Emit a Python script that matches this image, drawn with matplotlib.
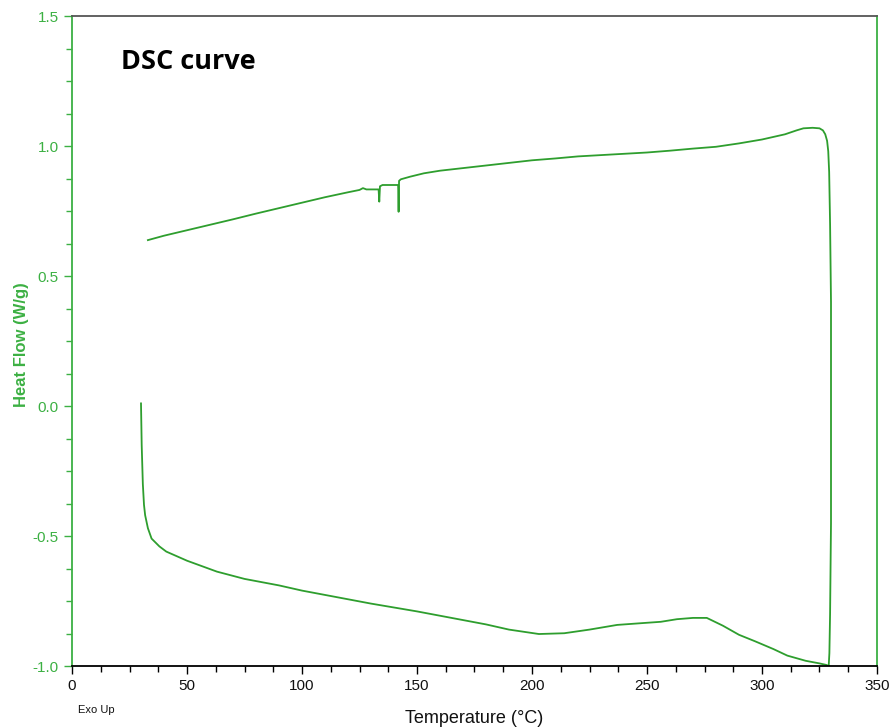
import matplotlib
matplotlib.use("Agg")
import matplotlib.pyplot as plt
from matplotlib.ticker import MultipleLocator

# ---- data ----
t_upper = [33, 40, 50, 60, 70, 80, 90, 100, 110, 120, 125, 126.5, 128, 133.3, 133.6, 133.9, 135,
           138, 141.8, 142.0, 142.2, 143, 147, 153, 160, 170, 180, 190, 200, 210, 220, 230,
           240, 250, 260, 270, 280, 290, 300, 305, 310, 315, 318, 322, 325, 326.5, 327.5,
           328.3, 328.8, 329.2, 329.6, 330, 330, 329.6, 329.3, 329]
hf_upper = [0.638, 0.655, 0.676, 0.697, 0.718, 0.74, 0.761, 0.782, 0.803, 0.822, 0.831, 0.838,
            0.833, 0.833, 0.786, 0.845, 0.85, 0.85, 0.85, 0.747, 0.866, 0.872, 0.882, 0.895,
            0.905, 0.915, 0.925, 0.935, 0.945, 0.952, 0.96, 0.965, 0.97, 0.975, 0.982, 0.99,
            0.997, 1.01, 1.025, 1.035, 1.045, 1.06, 1.068, 1.07, 1.068, 1.06, 1.045, 1.02,
            0.98, 0.9, 0.7, 0.4, -0.45, -0.8, -0.95, -1.0]

t_lower = [30, 30.3, 30.8, 31.3, 31.8, 33, 34.6, 38, 41, 50, 63, 75, 90, 100, 115, 130, 150,
           165, 180, 190, 203, 214, 225, 237, 248, 256, 263, 270, 276, 283, 290, 297, 305,
           311, 319, 325, 328, 329]
hf_lower = [0.01, -0.15, -0.3, -0.38, -0.42, -0.47, -0.51, -0.54, -0.56, -0.595, -0.637,
            -0.665, -0.69, -0.71, -0.735, -0.76, -0.79, -0.815, -0.84, -0.86, -0.877, -0.874,
            -0.86, -0.842, -0.835, -0.83, -0.82, -0.815, -0.815, -0.845, -0.88, -0.905, -0.935,
            -0.96, -0.98, -0.99, -0.996, -1.0]

x_ticks = [0, 50, 100, 150, 200, 250, 300, 350]
y_ticks = [-1.0, -0.5, 0.0, 0.5, 1.0, 1.5]

GREEN = "#2e9e2e"
LABEL_GREEN = "#3cb043"

fig = plt.figure(figsize=(8.94, 7.28), dpi=100)
ax = fig.add_axes([72/894, 1-666/728, 805/894, 650/728])

sans = ["Liberation Sans", "DejaVu Sans"]

ax.plot(t_upper, hf_upper, color=GREEN, lw=1.3)
ax.plot(t_lower, hf_lower, color=GREEN, lw=1.3)

ax.set_xlim(0, 350)
ax.set_ylim(-1.0, 1.5)
ax.set_xticks(x_ticks)
ax.set_yticks(y_ticks)
ax.xaxis.set_minor_locator(MultipleLocator(12.5))
ax.yaxis.set_minor_locator(MultipleLocator(0.125))
ax.set_xticklabels([f"{v:d}" for v in x_ticks], family=sans, fontsize=11, color="#111111")
ax.set_yticklabels([f"{v:.1f}" for v in y_ticks], family=sans, fontsize=11, color=LABEL_GREEN)

ax.tick_params(axis="x", which="major", direction="out", length=6, width=1, color="black")
ax.tick_params(axis="x", which="minor", direction="out", length=4, width=1, color="black")
ax.tick_params(axis="y", which="major", direction="out", length=6, width=1, color=LABEL_GREEN)
ax.tick_params(axis="y", which="minor", direction="out", length=4, width=1, color=LABEL_GREEN)

ax.spines["left"].set_color(LABEL_GREEN)
ax.spines["right"].set_color(LABEL_GREEN)
ax.spines["top"].set_color("#555555")
ax.spines["bottom"].set_color("black")
for s in ax.spines.values():
    s.set_linewidth(1.3)

ax.set_xlabel("Temperature (°C)", family=sans, fontsize=13, color="#111111", labelpad=12)
ax.set_ylabel("Heat Flow (W/g)", family=sans, fontsize=12, color=LABEL_GREEN,
              fontweight="bold")
ax.yaxis.set_label_coords((29 - 72) / 805, 0.494)

fig.text(96/894, 1-710/728, "Exo Up", family=sans, fontsize=8, color="#111111",
         ha="center", va="center")
fig.text(121/894, 1-62/728, "DSC curve", family=["Open Sans", "DejaVu Sans"], fontsize=19.5,
         fontweight="bold", color="black", ha="left", va="center")

fig.savefig("out.png", dpi=100)
